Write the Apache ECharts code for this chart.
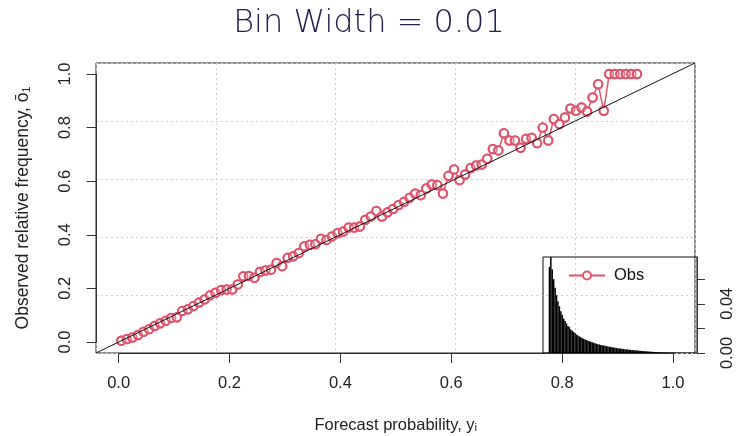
<!DOCTYPE html>
<html>
<head>
<meta charset="utf-8">
<title>Reliability diagram</title>
<script src="https://cdn.jsdelivr.net/npm/echarts@6/dist/echarts.min.js"></script>
<style>
	body { margin: 0; background: #fff; }
	#main { width: 738px; height: 436px; }
</style>
</head>
<body>
<div id="main"></div>
<script>
// forecast bin centres (bin width 0.01) that have observations
var forecastProb = [
	0.005, 0.015, 0.025, 0.035, 0.045, 0.055, 0.065, 0.075, 0.085, 0.095,
	0.105, 0.115, 0.125, 0.135, 0.145, 0.155, 0.165, 0.175, 0.185, 0.195,
	0.205, 0.215, 0.225, 0.235, 0.245, 0.255, 0.265, 0.275, 0.285, 0.295,
	0.305, 0.315, 0.325, 0.335, 0.345, 0.355, 0.365, 0.375, 0.385, 0.395,
	0.405, 0.415, 0.425, 0.435, 0.445, 0.455, 0.465, 0.475, 0.485, 0.495,
	0.505, 0.515, 0.525, 0.535, 0.545, 0.555, 0.565, 0.575, 0.585, 0.595,
	0.605, 0.615, 0.625, 0.635, 0.645, 0.655, 0.665, 0.675, 0.685, 0.695,
	0.705, 0.715, 0.725, 0.735, 0.745, 0.755, 0.765, 0.775, 0.785, 0.795,
	0.805, 0.815, 0.825, 0.835, 0.845, 0.855, 0.865, 0.875, 0.885, 0.895,
	0.905, 0.915, 0.925, 0.935
];
// observed relative frequency per bin
var obsFreq = [
	0.005, 0.011, 0.017, 0.026, 0.038, 0.048, 0.060, 0.070, 0.079, 0.090,
	0.092, 0.116, 0.122, 0.134, 0.147, 0.159, 0.174, 0.184, 0.194, 0.196,
	0.196, 0.215, 0.245, 0.246, 0.240, 0.262, 0.267, 0.270, 0.295, 0.283,
	0.314, 0.320, 0.332, 0.357, 0.363, 0.365, 0.385, 0.381, 0.394, 0.406,
	0.412, 0.427, 0.427, 0.431, 0.456, 0.468, 0.489, 0.468, 0.484, 0.496,
	0.511, 0.523, 0.538, 0.554, 0.548, 0.573, 0.588, 0.585, 0.554, 0.620,
	0.644, 0.604, 0.625, 0.649, 0.659, 0.662, 0.684, 0.720, 0.715, 0.779,
	0.752, 0.752, 0.725, 0.758, 0.762, 0.742, 0.800, 0.752, 0.832, 0.813,
	0.838, 0.871, 0.863, 0.875, 0.860, 0.912, 0.962, 0.863, 1.000, 1.000,
	1.000, 1.000, 1.000, 1.000
];
// histogram of forecasts (inset), all 100 bins
var histBins = [
	0.005, 0.015, 0.025, 0.035, 0.045, 0.055, 0.065, 0.075, 0.085, 0.095,
	0.105, 0.115, 0.125, 0.135, 0.145, 0.155, 0.165, 0.175, 0.185, 0.195,
	0.205, 0.215, 0.225, 0.235, 0.245, 0.255, 0.265, 0.275, 0.285, 0.295,
	0.305, 0.315, 0.325, 0.335, 0.345, 0.355, 0.365, 0.375, 0.385, 0.395,
	0.405, 0.415, 0.425, 0.435, 0.445, 0.455, 0.465, 0.475, 0.485, 0.495,
	0.505, 0.515, 0.525, 0.535, 0.545, 0.555, 0.565, 0.575, 0.585, 0.595,
	0.605, 0.615, 0.625, 0.635, 0.645, 0.655, 0.665, 0.675, 0.685, 0.695,
	0.705, 0.715, 0.725, 0.735, 0.745, 0.755, 0.765, 0.775, 0.785, 0.795,
	0.805, 0.815, 0.825, 0.835, 0.845, 0.855, 0.865, 0.875, 0.885, 0.895,
	0.905, 0.915, 0.925, 0.935, 0.945, 0.955, 0.965, 0.975, 0.985, 0.995
];
var histFreq = [
	0.070, 0.078, 0.068, 0.060, 0.053, 0.047, 0.042, 0.038, 0.034, 0.031,
	0.028, 0.026, 0.024, 0.022, 0.021, 0.019, 0.018, 0.017, 0.016, 0.015,
	0.0142, 0.0135, 0.0128, 0.0121, 0.0115, 0.0110, 0.0105, 0.0100, 0.0096, 0.0091,
	0.0087, 0.0083, 0.0079, 0.0075, 0.0072, 0.0069, 0.0066, 0.0063, 0.0060, 0.0058,
	0.0056, 0.0053, 0.0051, 0.0049, 0.0047, 0.0045, 0.0043, 0.0041, 0.0039, 0.0037,
	0.0035, 0.0034, 0.0032, 0.0031, 0.0029, 0.0028, 0.0027, 0.0025, 0.0024, 0.0023,
	0.0022, 0.0021, 0.0020, 0.0019, 0.0018, 0.0017, 0.0016, 0.0015, 0.0014, 0.0013,
	0.0012, 0.0011, 0.0010, 0.0009, 0.0009, 0.0008, 0.0007, 0.0007, 0.0006, 0.0005,
	0.0005, 0.0004, 0.0004, 0.0003, 0.0003, 0.0002, 0.0002, 0.0002, 0.0001, 0.0001,
	0.0001, 0.0001, 0.00005, 0.00005, 0, 0, 0, 0, 0, 0
];
var insetTicks = [0, 0.02, 0.04, 0.06];
var insetLabels = [0, 0.04];
// y = x reference line, across the whole plot box
var diagonal = [[-0.04, -0.04], [1.04, 1.04]];

var RED = '#DF536B';
var FONT = 'Liberation Sans';

initChart();

function initChart(){
	var myChart = echarts.init(document.getElementById('main'));

	var obsData = [];
	for(var i=0;i<forecastProb.length;i++){
		obsData.push([forecastProb[i], obsFreq[i]]);
	}
	var histData = [];
	for(var i=0;i<histBins.length;i++){
		histData.push([histBins[i], histFreq[i]]);
	}

	var option = {
		animation: false,
		title: {
			text: 'Bin Width = 0.01',
			left: 'center',
			top: 3,
			textStyle: {
				fontFamily: 'DejaVu Sans',
				fontSize: 32,
				fontWeight: 300,
				color: '#22224c'
			}
		},
		legend: {
			data: ['Obs'],
			left: 563,
			top: 262,
			itemWidth: 36,
			itemHeight: 10,
			textStyle: { fontFamily: FONT, fontSize: 16.5, color: '#111', padding: [0, 0, 0, 4] }
		},
		grid: [
			// plot box, split into 5 equal cells for the dotted grid
			{ left: 96, right: 43, top: 63, bottom: 83, show: true, borderColor: '#222', borderWidth: 1, outerBoundsMode: 'none' },
			// data area, 0..1
			{ left: 118.6, right: 65, top: 74, bottom: 94, outerBoundsMode: 'none' },
			// inset histogram
			{ left: 543, right: 41, top: 257, bottom: 83, show: true, borderColor: '#111', borderWidth: 1, outerBoundsMode: 'none' }
		],
		xAxis: [
			{
				gridIndex: 0, type: 'value', min: 0, max: 5, interval: 1,
				axisLine: { show: false }, axisTick: { show: false }, axisLabel: { show: false },
				splitLine: { show: true, lineStyle: { color: '#cfcfcf', type: [2, 3] } }
			},
			{
				gridIndex: 1, type: 'value', min: 0, max: 1, interval: 0.2, offset: 11,
				name: 'Forecast probability, y\u1d62',
				nameLocation: 'middle',
				nameGap: 64,
				nameTextStyle: { fontFamily: FONT, fontSize: 16.5, color: '#222' },
				axisLine: { show: true, onZero: false, lineStyle: { color: '#333' } },
				axisTick: { show: true, length: 10, lineStyle: { color: '#333' } },
				axisLabel: {
					margin: 22, fontFamily: FONT, fontSize: 16.5, color: '#222',
					formatter: function(v){ return v.toFixed(1); }
				},
				splitLine: { show: false }
			},
			{ gridIndex: 2, type: 'value', min: -0.04, max: 1.04, show: false },
			// same box, in data units, for the diagonal
			{ gridIndex: 0, type: 'value', min: -0.04, max: 1.04, show: false }
		],
		yAxis: [
			{
				gridIndex: 0, type: 'value', min: 0, max: 5, interval: 1,
				axisLine: { show: false }, axisTick: { show: false }, axisLabel: { show: false },
				splitLine: { show: true, lineStyle: { color: '#cfcfcf', type: [2, 3] } }
			},
			{
				gridIndex: 1, type: 'value', min: 0, max: 1, interval: 0.2, offset: 22,
				name: 'Observed relative frequency, \u014d\u2081',
				nameLocation: 'middle',
				nameGap: 64,
				nameTextStyle: { fontFamily: FONT, fontSize: 17.5, color: '#222' },
				axisLine: { show: true, onZero: false, lineStyle: { color: '#333' } },
				axisTick: { show: true, length: 10, lineStyle: { color: '#333' } },
				axisLabel: {
					rotate: 90, margin: 23, fontFamily: FONT, fontSize: 16.5, color: '#222',
					formatter: function(v){ return v.toFixed(1); }
				},
				splitLine: { show: false }
			},
			{
				gridIndex: 2, type: 'value', position: 'right', min: 0, max: 0.078,
				axisLine: { show: true, onZero: false, lineStyle: { color: '#333' } },
				axisTick: { show: true, length: 8, customValues: insetTicks, lineStyle: { color: '#333' } },
				axisLabel: {
					rotate: 90, margin: 22, fontFamily: FONT, fontSize: 16.5, color: '#222',
					customValues: insetLabels,
					formatter: function(v){ return v.toFixed(2); }
				},
				splitLine: { show: false }
			},
			{ gridIndex: 0, type: 'value', min: -0.04, max: 1.04, show: false }
		],
		series: [
			{
				// line part of type="b": white filled symbols hide the segments under the points
				name: 'Obs',
				type: 'line',
				xAxisIndex: 1,
				yAxisIndex: 1,
				data: obsData,
				symbol: 'emptyCircle',
				symbolSize: 8.5,
				showSymbol: true,
				showAllSymbol: true,
				itemStyle: { color: RED, borderWidth: 1.8 },
				lineStyle: { color: RED, width: 1.5 },
				z: 2,
				silent: true
			},
			{
				// open circles drawn again on top so they overlap like pch=1
				name: 'ObsPoints',
				type: 'scatter',
				xAxisIndex: 1,
				yAxisIndex: 1,
				data: obsData,
				symbol: 'circle',
				symbolSize: 8.5,
				itemStyle: { color: 'rgba(0,0,0,0)', borderColor: RED, borderWidth: 1.8 },
				z: 3,
				silent: true
			},
			{
				name: 'perfect',
				type: 'line',
				xAxisIndex: 3,
				yAxisIndex: 3,
				data: diagonal,
				symbol: 'none',
				lineStyle: { color: '#111', width: 1 },
				z: 4,
				silent: true
			},
			{
				name: 'hist',
				type: 'bar',
				xAxisIndex: 2,
				yAxisIndex: 2,
				data: histData,
				barWidth: 1.5,
				itemStyle: { color: '#000' },
				silent: true
			}
		]
	};

	myChart.setOption(option);
}
</script>
</body>
</html>
